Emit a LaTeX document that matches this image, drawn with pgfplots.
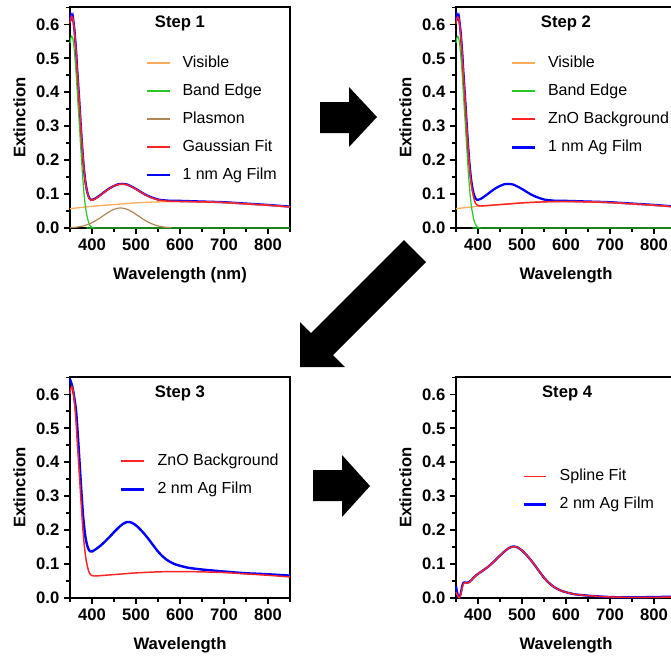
\documentclass[border=0pt]{standalone}
\usepackage{fontspec}
\setmainfont{Liberation Sans}
\usepackage{pgfplots}
\usepackage{pgfplotstable}
\pgfplotsset{compat=1.18}

\definecolor{cvis}{RGB}{255,172,95}
\definecolor{cband}{RGB}{40,200,40}
\definecolor{cplas}{RGB}{175,135,85}
\definecolor{cred}{RGB}{255,35,35}
\definecolor{cblue}{RGB}{0,0,255}

\pgfplotstableread{
x y
350 0.057
375 0.0605
400 0.064
450 0.069
500 0.074
550 0.077
600 0.078
650 0.077
700 0.075
750 0.071
800 0.067
850 0.062
}\visible

\pgfplotstableread{
x y
350 0.545
352 0.560
354 0.565
356 0.560
358 0.545
360 0.520
362 0.490
364 0.455
366 0.412
368 0.370
370 0.330
372 0.290
374 0.245
376 0.205
378 0.165
380 0.130
382 0.100
384 0.075
386 0.055
388 0.040
390 0.028
392 0.018
394 0.011
396 0.007
398 0.004
400 0.002
405 0.0005
410 0
850 0
}\bandedge

\pgfplotstableread{
x y
350 0.001
360 0.0019
370 0.0035
380 0.0062
390 0.0102
400 0.0158
410 0.023
420 0.0313
430 0.0402
440 0.0485
450 0.055
460 0.0585
465 0.059
470 0.0585
480 0.055
490 0.0485
500 0.0402
510 0.0313
520 0.023
530 0.0158
540 0.0102
550 0.0062
560 0.0035
570 0.0019
580 0.001
}\plasmon

\pgfplotstableread{
x y
350 0.603
352 0.618
354 0.624
356 0.619
358 0.605
360 0.580
362 0.551
364 0.517
366 0.472
368 0.433
370 0.394
372 0.354
374 0.310
376 0.271
378 0.232
380 0.198
382 0.169
384 0.145
386 0.126
388 0.112
390 0.101
392 0.092
394 0.087
396 0.084
398 0.0824
400 0.0818
405 0.084
410 0.088
420 0.0973
430 0.1072
440 0.1165
450 0.124
460 0.1285
470 0.1295
480 0.127
490 0.1215
500 0.1142
510 0.106
520 0.0984
530 0.0919
540 0.0868
550 0.0832
560 0.0808
570 0.0794
580 0.0787
600 0.078
650 0.077
700 0.075
750 0.071
800 0.067
850 0.062
}\gaussfit

\pgfplotstableread{
x y
350 0.612
352 0.628
354 0.620
356 0.626
358 0.607
360 0.585
362 0.553
364 0.520
366 0.474
368 0.436
370 0.396
372 0.356
374 0.313
376 0.272
378 0.234
380 0.199
382 0.171
384 0.146
386 0.128
388 0.113
390 0.102
392 0.094
394 0.088
396 0.085
398 0.083
400 0.083
405 0.085
410 0.089
420 0.098
430 0.108
440 0.117
450 0.124
460 0.129
470 0.130
480 0.128
490 0.122
500 0.115
510 0.107
520 0.099
530 0.093
540 0.088
550 0.084
560 0.082
570 0.081
580 0.080
600 0.080
650 0.078
700 0.076
750 0.072
800 0.068
850 0.063
}\agone

\pgfplotstableread{
x y
350 0.602
352 0.617
354 0.622
356 0.618
358 0.603
360 0.578
362 0.549
364 0.514
366 0.469
368 0.430
370 0.390
372 0.350
374 0.306
376 0.266
378 0.226
380 0.1915
382 0.162
384 0.137
386 0.117
388 0.103
390 0.091
392 0.081
394 0.074
396 0.0705
398 0.068
400 0.066
405 0.0648
410 0.065
420 0.066
450 0.069
500 0.074
550 0.077
600 0.078
650 0.077
700 0.075
750 0.071
800 0.067
850 0.062
}\znobg

\pgfplotstableread{
x y
350 0.645
352 0.637
355 0.624
358 0.605
361 0.579
364 0.549
367 0.495
370 0.436
375 0.331
380 0.2385
385 0.180
390 0.151
395 0.138
400 0.137
410 0.145
420 0.155
430 0.167
440 0.180
450 0.194
460 0.207
470 0.218
480 0.224
490 0.222
500 0.214
510 0.2017
520 0.1874
530 0.1711
540 0.1536
550 0.137
560 0.1233
570 0.1125
580 0.1047
590 0.0989
600 0.095
620 0.0888
650 0.084
700 0.078
750 0.073
800 0.070
850 0.066
}\agtwo

\pgfplotstableread{
x y
350 0.035
352 0.020
355 0.003
358 0.002
361 0.015
364 0.035
367 0.045
370 0.046
375 0.045
380 0.047
385 0.053
390 0.060
395 0.066
400 0.071
410 0.080
420 0.089
430 0.100
440 0.112
450 0.125
460 0.137
470 0.147
480 0.152
490 0.149
500 0.140
510 0.127
520 0.112
530 0.095
540 0.077
550 0.060
560 0.046
570 0.035
580 0.027
590 0.021
600 0.017
620 0.011
650 0.007
700 0.003
750 0.002
800 0.003
850 0.004
}\agtwosub

\pgfplotstableread{
x y
350 0.018
352 0.012
355 0.003
358 0.001
361 0.012
364 0.030
367 0.042
370 0.045
375 0.044
380 0.046
385 0.053
390 0.060
395 0.066
400 0.071
410 0.080
420 0.089
430 0.100
440 0.112
450 0.125
460 0.137
470 0.147
480 0.151
490 0.149
500 0.140
510 0.127
520 0.112
530 0.095
540 0.077
550 0.060
560 0.046
570 0.035
580 0.027
590 0.021
600 0.017
620 0.011
650 0.007
700 0.003
750 0.002
800 0.002
850 0.003
}\splinefit

\tikzset{steptitle/.style={font=\fontsize{12.5}{14}\selectfont\bfseries, anchor=center}}

\pgfplotsset{
  stepaxis/.style={
    scale only axis, width=165pt, height=165.5pt,
    xmin=350, xmax=850, ymin=0, ymax=0.65,
    clip=false,
    axis line style={line width=1.5pt},
    every tick/.style={black, line width=1.2pt},
    tick align=outside,
    major tick length=4.5pt, minor tick length=3pt,
    xtick={400,500,600,700,800}, minor xtick={350,450,550,650,750,850},
    ytick={0,0.1,0.2,0.3,0.4,0.5,0.6}, minor ytick={0.05,0.15,0.25,0.35,0.45,0.55,0.65},
    xtick pos=bottom, ytick pos=left,
    /pgf/number format/assume math mode=true,
    tick label style={font=\fontsize{12.5}{14}\selectfont\bfseries},
    yticklabel style={/pgf/number format/fixed, /pgf/number format/fixed zerofill, /pgf/number format/precision=1},
    label style={font=\fontsize{12.5}{14}\selectfont\bfseries},
    ylabel=Extinction,
    ylabel style={at={(axis description cs:-0.23,0.5)}, anchor=center},
    xlabel style={at={(axis description cs:0.5,-0.213)}, anchor=center},
    legend cell align=left,
    legend style={draw=none, fill=none, anchor=north west,
      font=\fontsize{12}{14}\selectfont, row sep=9.5pt,
      nodes={inner sep=0pt, text height=9pt, text depth=2.5pt},
      /tikz/every odd column/.append style={column sep=9pt}},
    legend image code/.code={\draw[#1] (0pt,0pt) -- (17pt,0pt);},
    every axis plot/.append style={smooth, tension=0.4},
  },
}

\begin{document}
\begin{tikzpicture}[trim left=0pt, trim right=503.25pt]
\path[use as bounding box] (0pt,0pt) rectangle (503.25pt,-493.5pt);

% Step 1
\begin{axis}[stepaxis, at={(52.5pt,-171pt)}, anchor=south west,
  xlabel={Wavelength (nm)},
  legend style={at={(axis description cs:0.326,0.795)}}]
\addplot[cblue, line width=1.7pt, forget plot] table {\agone};
\addplot[cvis, line width=1pt, forget plot] table {\visible};
\addplot[cband, line width=0.9pt, forget plot] table {\bandedge};
\addplot[cplas, line width=0.9pt, forget plot] table {\plasmon};
\addplot[cred, line width=1.1pt, forget plot] table {\gaussfit};
\addlegendimage{cvis, line width=1.3pt}
\addlegendentry{Visible}
\addlegendimage{cband, line width=1.1pt}
\addlegendentry{Band Edge}
\addlegendimage{cplas, line width=1.1pt}
\addlegendentry{Plasmon}
\addlegendimage{cred, line width=1.4pt}
\addlegendentry{Gaussian Fit}
\addlegendimage{cblue, line width=1.1pt}
\addlegendentry{1 nm Ag Film}
\node[steptitle] at (axis description cs:0.5,0.925) {Step 1};
\end{axis}

% Step 2
\begin{axis}[stepaxis, at={(342pt,-171pt)}, anchor=south west,
  xlabel={Wavelength},
  legend style={at={(axis description cs:0.228,0.795)}}]
\addplot[cblue, line width=1.7pt, forget plot] table {\agone};
\addplot[cvis, line width=1pt, forget plot] table {\visible};
\addplot[cband, line width=0.9pt, forget plot] table {\bandedge};
\addplot[cred, line width=1.1pt, forget plot] table {\znobg};
\addlegendimage{cvis, line width=1.3pt}
\addlegendentry{Visible}
\addlegendimage{cband, line width=1.1pt}
\addlegendentry{Band Edge}
\addlegendimage{cred, line width=1.4pt}
\addlegendentry{ZnO Background}
\addlegendimage{cblue, line width=2.2pt}
\addlegendentry{1 nm Ag Film}
\node[steptitle] at (axis description cs:0.5,0.925) {Step 2};
\end{axis}

% Step 3
\begin{axis}[stepaxis, at={(52.5pt,-448.5pt)}, anchor=south west,
  xlabel={Wavelength},
  legend style={at={(axis description cs:0.208,0.668)}}]
\addplot[cblue, line width=1.8pt, forget plot] table {\agtwo};
\addplot[cred, line width=1.1pt, forget plot] table {\znobg};
\addlegendimage{cred, line width=1.4pt}
\addlegendentry{ZnO Background}
\addlegendimage{cblue, line width=2.2pt}
\addlegendentry{2 nm Ag Film}
\node[steptitle] at (axis description cs:0.5,0.927) {Step 3};
\end{axis}

% Step 4
\begin{axis}[stepaxis, at={(342pt,-448.5pt)}, anchor=south west,
  xlabel={Wavelength},
  legend style={at={(axis description cs:0.281,0.599)}}]
\addplot[cblue, line width=1.7pt, forget plot] table {\agtwosub};
\addplot[cred, line width=1.1pt, forget plot] table {\splinefit};
\addlegendimage{cred, line width=1.4pt}
\addlegendentry{Spline Fit}
\addlegendimage{cblue, line width=2.2pt}
\addlegendentry{2 nm Ag Film}
\node[steptitle] at (axis description cs:0.505,0.927) {Step 4};
\end{axis}

% arrows
\begin{scope}[x=0.75pt, y=-0.75pt]
\fill[black] (320,102) -- (349,102) -- (349,87) -- (377,117) -- (349,147) -- (349,133) -- (320,133) -- cycle;
\fill[black] (313,470) -- (342,470) -- (342,455) -- (370,486) -- (342,517) -- (342,501) -- (313,501) -- cycle;
\fill[black] (300,367) -- (300,322) -- (311,333) -- (404,240) -- (426,262) -- (333,355) -- (345,367) -- cycle;
\end{scope}
\end{tikzpicture}
\end{document}
